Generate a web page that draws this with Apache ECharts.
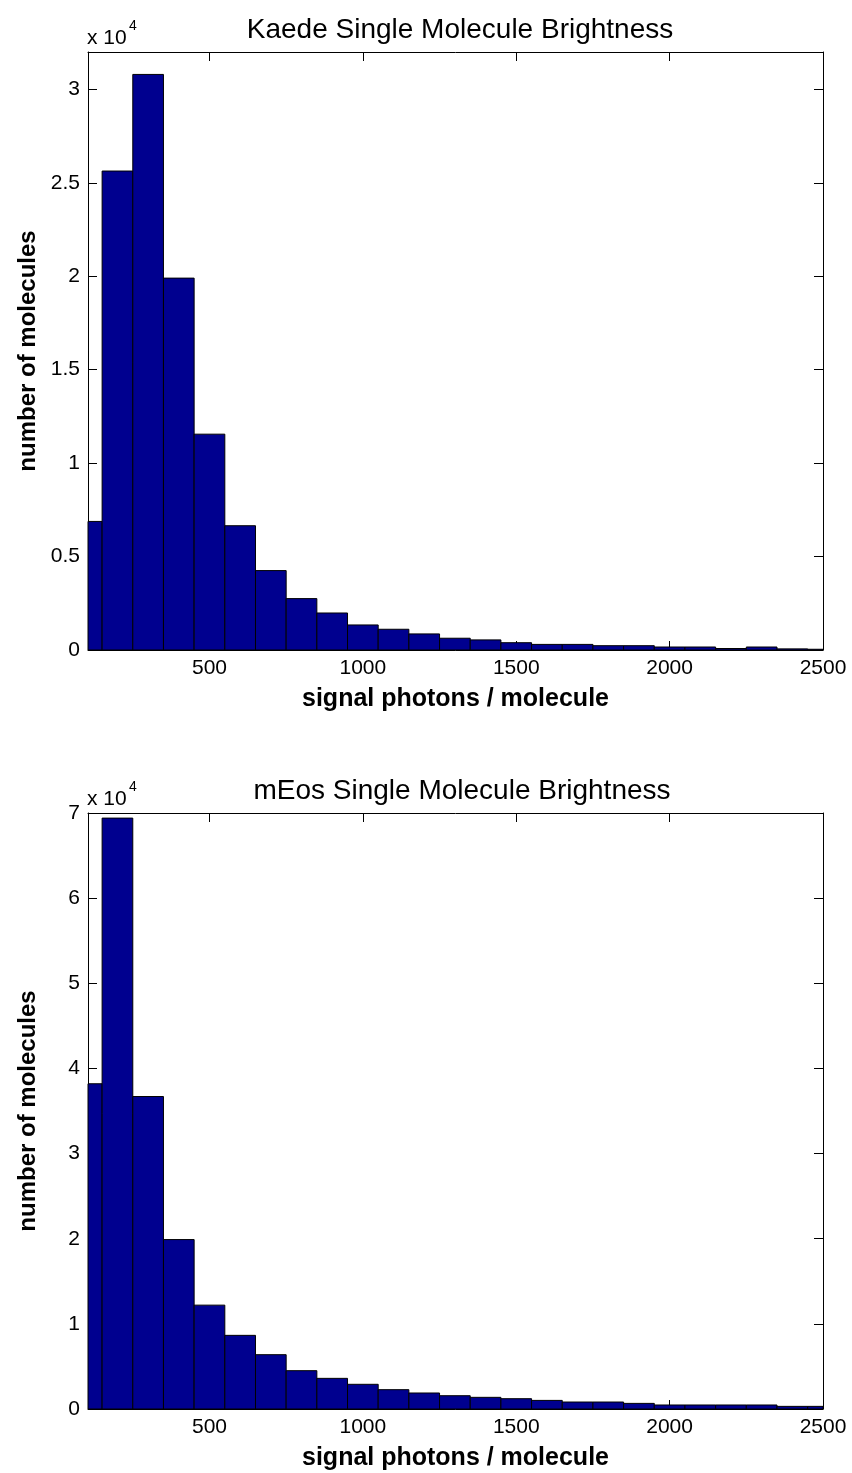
<!DOCTYPE html>
<html>
<head>
<meta charset="utf-8">
<script src="https://cdn.jsdelivr.net/npm/echarts@6/dist/echarts.min.js"></script>
<style>
  html, body { margin: 0; padding: 0; background: #fff; }
  #chart { width: 852px; height: 1473px; }
</style>
</head>
<body>
<div id="chart"></div>
<script>
// bin centres (signal photons / molecule)
const binCenters = [100, 200, 300, 400, 500, 600, 700, 800, 900, 1000, 1100, 1200, 1300,
  1400, 1500, 1600, 1700, 1800, 1900, 2000, 2100, 2200, 2300, 2400, 2500];
// counts per bin
const kaedeCounts = [6880, 25630, 30800, 19900, 11550, 6650, 4250, 2750, 1980, 1340, 1110, 860, 630,
  540, 390, 300, 300, 230, 230, 160, 160, 80, 160, 60, 40];
const meosCounts = [38200, 69400, 36700, 19900, 12200, 8650, 6380, 4500, 3600, 2900, 2270, 1880, 1560,
  1370, 1210, 1010, 820, 820, 660, 470, 470, 470, 470, 310, 310];
const xTicks = [500, 1000, 1500, 2000, 2500];
const kaedeYTicks = [0, 5000, 10000, 15000, 20000, 25000, 30000];
const meosYTicks = [0, 10000, 20000, 30000, 40000, 50000, 60000, 70000];

const FONT = '"Liberation Sans", Arial, Helvetica, sans-serif';
const binWidth = binCenters[1] - binCenters[0];
const grids = [
  { left: 88, right: 29, top: 52, height: 598 },
  { left: 88, right: 29, top: 813, height: 596 }
];

const chart = echarts.init(document.getElementById('chart'), null, { renderer: 'canvas' });

function renderHist(params, api) {
  const c = api.value(0);
  const n = api.value(1);
  const p0 = api.coord([c - binWidth / 2, n]);
  const p1 = api.coord([c + binWidth / 2, 0]);
  const cs = params.coordSys;
  const shape = echarts.graphic.clipRectByRect(
    { x: p0[0], y: p0[1], width: p1[0] - p0[0], height: p1[1] - p0[1] },
    { x: cs.x, y: cs.y, width: cs.width, height: cs.height }
  );
  if (!shape) return;
  return {
    type: 'rect',
    shape: shape,
    style: { fill: '#00008F', stroke: '#000', lineWidth: 1 }
  };
}

function xAxisPair(gi) {
  const base = {
    gridIndex: gi,
    type: 'value',
    min: 104,
    max: 2500,
    splitLine: { show: false },
    axisLine: { onZero: false, lineStyle: { color: '#000', width: 1 } },
    axisTick: { inside: true, length: 9, customValues: xTicks, lineStyle: { color: '#000' } }
  };
  return [
    Object.assign({}, base, {
      position: 'bottom',
      axisLabel: {
        customValues: xTicks, color: '#000', fontSize: 21, fontFamily: FONT, margin: 8,
        formatter: v => String(v)
      },
      name: 'signal photons / molecule',
      nameLocation: 'middle',
      nameGap: 37,
      nameTextStyle: { color: '#000', fontSize: 25, fontWeight: 'bold', fontFamily: FONT }
    }),
    Object.assign({}, base, { position: 'top', axisLabel: { show: false } })
  ];
}

function yAxisPair(gi, max, ticks) {
  const base = {
    gridIndex: gi,
    type: 'value',
    min: 0,
    max: max,
    splitLine: { show: false },
    axisLine: { onZero: false, lineStyle: { color: '#000', width: 1 } },
    axisTick: { inside: true, length: 9, customValues: ticks, lineStyle: { color: '#000' } }
  };
  return [
    Object.assign({}, base, {
      position: 'left',
      axisLabel: {
        customValues: ticks, color: '#000', fontSize: 21, fontFamily: FONT, margin: 8,
        formatter: v => String(v / 10000)
      },
      name: 'number of molecules',
      nameLocation: 'middle',
      nameGap: 48,
      nameTextStyle: { color: '#000', fontSize: 24, fontWeight: 'bold', fontFamily: FONT }
    }),
    Object.assign({}, base, { position: 'right', axisLabel: { show: false } })
  ];
}

function exponent(gi) {
  const top = grids[gi].top;
  return [
    { type: 'text', left: 87, top: top - 24, style: { text: 'x 10', fontSize: 21, fontFamily: FONT, fill: '#000' } },
    { type: 'text', left: 129, top: top - 33, style: { text: '4', fontSize: 14, fontFamily: FONT, fill: '#000' } }
  ];
}

const option = {
  backgroundColor: '#fff',
  animation: false,
  title: [
    { text: 'Kaede Single Molecule Brightness', left: 455, top: 11, textAlign: 'center',
      textStyle: { fontSize: 28, fontWeight: 'normal', color: '#000', fontFamily: FONT } },
    { text: 'mEos Single Molecule Brightness', left: 457, top: 772, textAlign: 'center',
      textStyle: { fontSize: 28, fontWeight: 'normal', color: '#000', fontFamily: FONT } }
  ],
  grid: grids,
  xAxis: [...xAxisPair(0), ...xAxisPair(1)],
  yAxis: [...yAxisPair(0, 32000, kaedeYTicks), ...yAxisPair(1, 70000, meosYTicks)],
  graphic: [...exponent(0), ...exponent(1)],
  series: [
    {
      name: 'Kaede', type: 'custom', xAxisIndex: 0, yAxisIndex: 0,
      renderItem: renderHist, encode: { x: 0, y: 1 },
      data: binCenters.map((c, i) => [c, kaedeCounts[i]])
    },
    {
      name: 'mEos', type: 'custom', xAxisIndex: 2, yAxisIndex: 2,
      renderItem: renderHist, encode: { x: 0, y: 1 },
      data: binCenters.map((c, i) => [c, meosCounts[i]])
    }
  ]
};

chart.setOption(option);
</script>
</body>
</html>
